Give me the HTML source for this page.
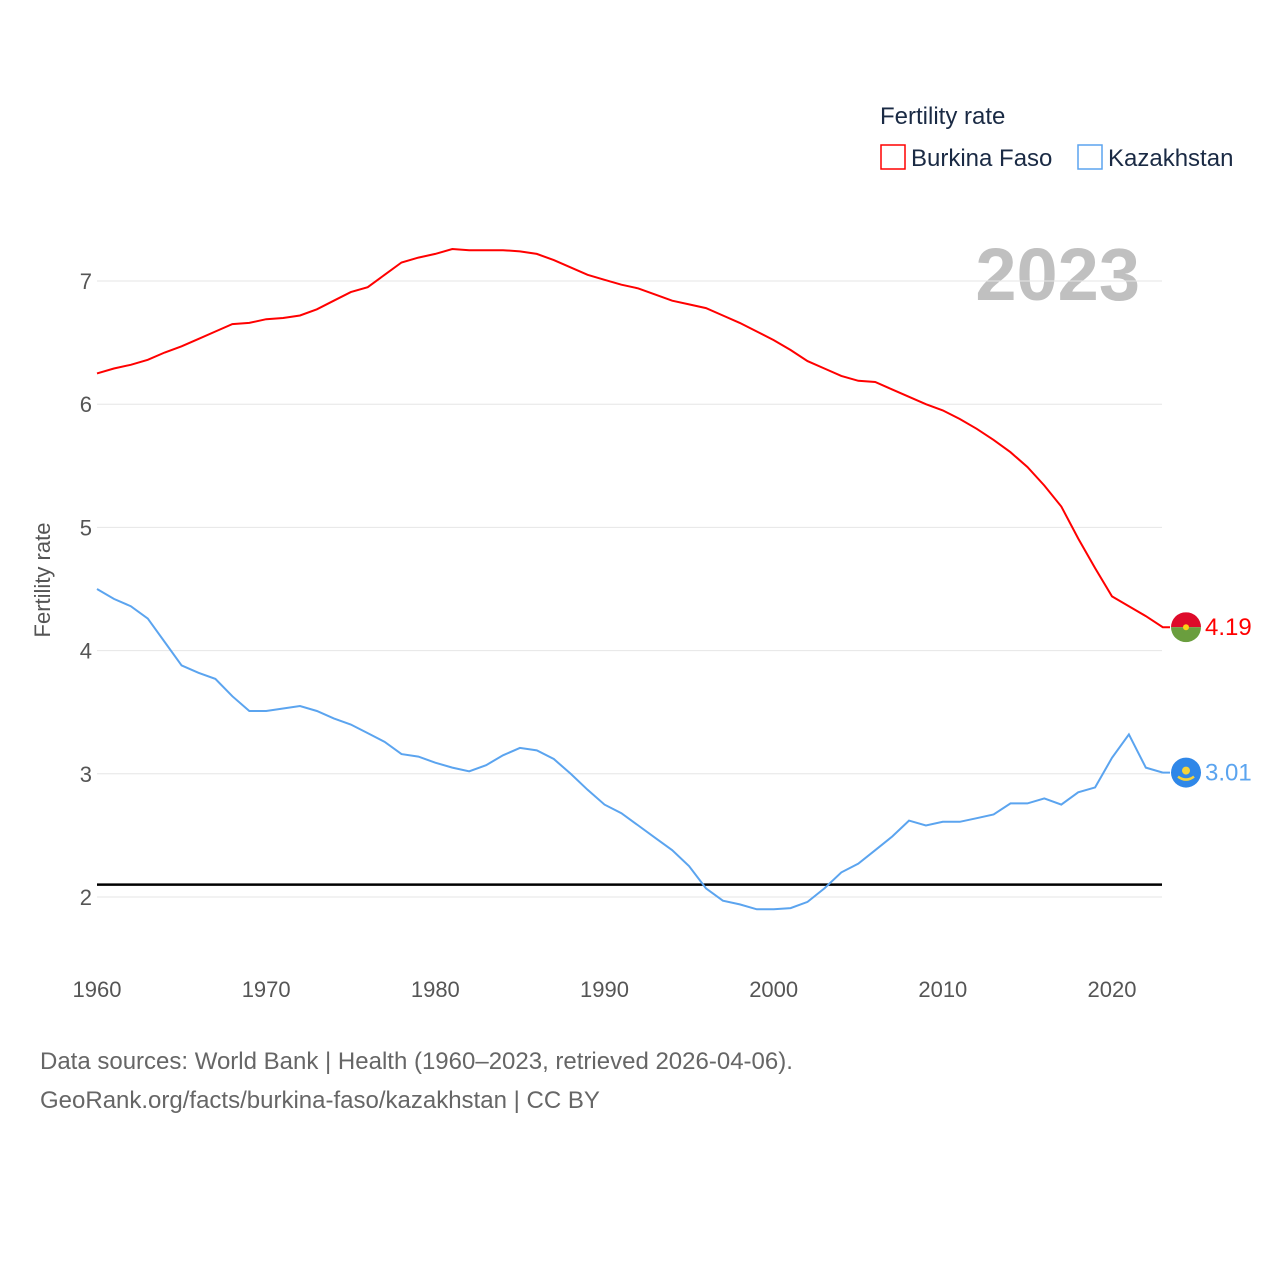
<!DOCTYPE html>
<html><head><meta charset="utf-8"><style>
body{margin:0;background:#fff;font-family:"Liberation Sans",sans-serif}
svg text{font-family:"Liberation Sans",sans-serif}
</style></head><body>
<svg id="c" width="1280" height="1280" xmlns="http://www.w3.org/2000/svg">
<text x="880" y="124" font-size="24" fill="#1a2a44">Fertility rate</text>
<g><rect x="881" y="145" width="24" height="24" fill="none" stroke="#f00" stroke-width="1.5"/><text x="911" y="166" font-size="24" fill="#1a2a44">Burkina Faso</text></g>
<g><rect x="1078" y="145" width="24" height="24" fill="none" stroke="#5ba4ef" stroke-width="1.5"/><text x="1108" y="166" font-size="24" fill="#1a2a44">Kazakhstan</text></g>
<text x="1140" y="300" font-size="74" font-weight="bold" fill="#c0c0c0" text-anchor="end">2023</text>
<text transform="translate(50,580) rotate(-90)" font-size="22" fill="#555" text-anchor="middle">Fertility rate</text>
<g id="grid"></g><g id="series"></g><g id="marks"></g>
<text x="40" y="1069" font-size="24" fill="#666">Data sources: World Bank | Health (1960–2023, retrieved 2026-04-06).</text>
<text x="40" y="1108" font-size="24" fill="#666">GeoRank.org/facts/burkina-faso/kazakhstan | CC BY</text>
</svg>
<script>
const years=[];for(let y=1960;y<=2023;y++)years.push(y);
const burkina=[6.25,6.29,6.32,6.36,6.42,6.47,6.53,6.59,6.65,6.66,6.69,6.70,6.72,6.77,6.84,6.91,6.95,7.05,7.15,7.19,7.22,7.26,7.25,7.25,7.25,7.24,7.22,7.17,7.11,7.05,7.01,6.97,6.94,6.89,6.84,6.81,6.78,6.72,6.66,6.59,6.52,6.44,6.35,6.29,6.23,6.19,6.18,6.12,6.06,6.00,5.95,5.88,5.80,5.71,5.61,5.49,5.34,5.17,4.91,4.67,4.44,4.36,4.28,4.19];
const kazakh=[4.50,4.42,4.36,4.26,4.07,3.88,3.82,3.77,3.63,3.51,3.51,3.53,3.55,3.51,3.45,3.40,3.33,3.26,3.16,3.14,3.09,3.05,3.02,3.07,3.15,3.21,3.19,3.12,3.00,2.87,2.75,2.68,2.58,2.48,2.38,2.25,2.07,1.97,1.94,1.90,1.90,1.91,1.96,2.07,2.20,2.27,2.38,2.49,2.62,2.58,2.61,2.61,2.64,2.67,2.76,2.76,2.80,2.75,2.85,2.89,3.13,3.32,3.05,3.01];
const yTicks=[2,3,4,5,6,7];
const xTicks=[1960,1970,1980,1990,2000,2010,2020];
const replacement=2.1;
const NS="http://www.w3.org/2000/svg";
const X=y=>97+(y-1960)*(1015/60);
const Y=v=>897-(v-2)*123.2;
function mk(t,a,p){const e=document.createElementNS(NS,t);for(const k in a)e.setAttribute(k,a[k]);p.appendChild(e);return e;}
const g=document.getElementById('grid');
yTicks.forEach(v=>{
 const l=mk('line',{x1:97,x2:1162,y1:Y(v),y2:Y(v),stroke:'#e6e6e6'},g);
 
 
 const t=mk('text',{x:92,y:Y(v)+8,'font-size':22,fill:'#555','text-anchor':'end'},g);t.textContent=v;
 
 
});
xTicks.forEach(v=>{
 const t=mk('text',{x:X(v),y:997,'font-size':22,fill:'#555','text-anchor':'middle'},g);t.textContent=v;
 
 
});
const s=document.getElementById('series');
const rl=mk('line',{x1:97,x2:1162,y1:Y(replacement),y2:Y(replacement),stroke:'#000','stroke-width':2.5},s);


function line(d,c,n){
 const p=mk('path',{d:d.map((v,i)=>(i?'L':'M')+X(years[i]).toFixed(1)+','+Y(v).toFixed(1)).join('')+'L1170,'+Y(d[d.length-1]).toFixed(1),fill:'none',stroke:c,'stroke-width':2},s);
 
 
}
line(burkina,'#f00','burkina-faso-line');
line(kazakh,'#5ba4ef','kazakhstan-line');
const m=document.getElementById('marks');
const by=Y(burkina[63]),ky=Y(kazakh[63]);
const f1=mk('g',{},m);


mk('clipPath',{id:'cb'},f1).appendChild(document.createElementNS(NS,'circle')).setAttribute('r',15);
f1.lastChild.firstChild.setAttribute('cx',1186);f1.lastChild.firstChild.setAttribute('cy',by);
mk('rect',{x:1171,y:by-15,width:30,height:15,fill:'#de0a2a','clip-path':'url(#cb)'},f1);
mk('rect',{x:1171,y:by,width:30,height:15,fill:'#6a9e3e','clip-path':'url(#cb)'},f1);
mk('circle',{cx:1186,cy:by,r:3,fill:'#fcd116'},f1);
const t1=mk('text',{x:1205,y:by+8,'font-size':24,fill:'#f00'},m);t1.textContent=burkina[63].toFixed(2);


const f2=mk('g',{},m);


mk('circle',{cx:1186,cy:ky,r:15,fill:'#2f87e8'},f2);
mk('circle',{cx:1186,cy:ky-2,r:4,fill:'#f5d33a'},f2);
mk('path',{d:`M1178,${ky+4} Q1186,${ky+10} 1194,${ky+4}`,stroke:'#f5d33a','stroke-width':2.5,fill:'none'},f2);
const t2=mk('text',{x:1205,y:ky+8,'font-size':24,fill:'#5ba4ef'},m);t2.textContent=kazakh[63].toFixed(2);


</script>
</body></html>
